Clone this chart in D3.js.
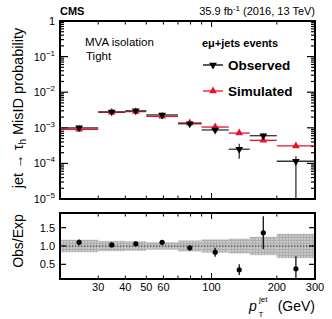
<!DOCTYPE html>
<html>
<head>
<meta charset="utf-8">
<script src="https://cdn.jsdelivr.net/npm/d3@7"></script>
<style>
  body { margin: 0; background: #fff; }
  text { font-family: "Liberation Sans", Arial, sans-serif; }
</style>
</head>
<body>
<div class="holder"></div>
<script>
"use strict";

// pT bins (GeV)
const binLo = [20, 30, 40, 50, 70, 90, 120, 150, 200];
const binHi = [30, 40, 50, 70, 90, 120, 150, 200, 300];
// misID probability
const observed = [1.0e-3, 2.8e-3, 3.0e-3, 2.3e-3, 1.3e-3, 0.87e-3, 2.5e-4, 6.0e-4, 1.15e-4];
const obsUp = [1.1e-3, 3.05e-3, 3.25e-3, 2.5e-3, 1.4e-3, 0.95e-3, 3.55e-4, 7.0e-4, 1.6e-4];
const obsDn = [0.9e-3, 2.55e-3, 2.75e-3, 2.1e-3, 1.2e-3, 0.79e-3, 1.35e-4, 5.1e-4, 1e-6];
const simulated = [0.91e-3, 2.72e-3, 2.85e-3, 2.1e-3, 1.37e-3, 1.05e-3, 7.1e-4, 4.45e-4, 3.1e-4];
// ratio panel
const ratio = [1.1, 1.03, 1.06, 1.1, 0.95, 0.83, 0.35, 1.36, 0.38];
const ratioUp = [1.18, 1.09, 1.12, 1.16, 1.03, 0.95, 0.5, 1.81, 0.72];
const ratioDn = [1.02, 0.97, 1.0, 1.04, 0.87, 0.71, 0.21, 0.92, 0.05];
const bandHalf = [0.17, 0.14, 0.13, 0.1, 0.15, 0.18, 0.2, 0.25, 0.33];
const xTickLabels = [30, 40, 50, 60, 100, 200, 300];
const ratioTicks = [0.5, 1.0, 1.5];

const w = 332;
const h = 319;
const L = 60, R = 315;

const svg = d3.select(".holder").append("svg")
  .attr("width", w).attr("height", h);

const defs = svg.append("defs");
const pat = defs.append("pattern").attr("id", "hatch")
  .attr("patternUnits", "userSpaceOnUse").attr("width", 3).attr("height", 3);
pat.append("rect").attr("width", 3).attr("height", 3).attr("fill", "#c6c6c6");
pat.append("path").attr("d", "M0,0.5H3M0.5,0V3").attr("stroke", "#ababab").attr("stroke-width", 0.8);

const x = d3.scaleLog().domain([20, 300]).range([L, R]);
const yTop = d3.scaleLog().domain([1e-5, 1]).range([199, 21]).clamp(true);
const yRat = d3.scaleLinear().domain([0.1, 1.9]).range([279, 213]).clamp(true);

const bins = binLo.map((lo, i) => ({
  lo: lo, hi: binHi[i], c: Math.sqrt(lo * binHi[i]),
  obs: observed[i], up: obsUp[i], dn: obsDn[i], sim: simulated[i],
  r: ratio[i], rUp: ratioUp[i], rDn: ratioDn[i], band: bandHalf[i]
}));

// ---------- upper panel ----------
const topG = svg.append("g");

// minor / major ticks on log y (both sides)
const yTicks = [];
for (let e = -5; e < 0; e++) {
  for (let k = 1; k < 10; k++) yTicks.push({ v: k * Math.pow(10, e), major: k === 1 });
}
yTicks.push({ v: 1, major: true });
topG.selectAll("line.yt").data(yTicks).enter().append("line")
  .attr("x1", L).attr("x2", (d) => L + (d.major ? 8 : 4))
  .attr("y1", (d) => yTop(d.v)).attr("y2", (d) => yTop(d.v))
  .attr("stroke", "#000").attr("stroke-width", 1.2);
topG.selectAll("line.ytr").data(yTicks).enter().append("line")
  .attr("x1", R).attr("x2", (d) => R - (d.major ? 8 : 4))
  .attr("y1", (d) => yTop(d.v)).attr("y2", (d) => yTop(d.v))
  .attr("stroke", "#000").attr("stroke-width", 1.2);

const xTicks = [30, 40, 50, 60, 70, 80, 90, 100, 200, 300];
[[199, -1], [21, 1], [213, 1], [279, -1]].forEach(([yy, dir]) => {
  svg.selectAll(null).data(xTicks).enter().append("line")
    .attr("x1", (d) => x(d)).attr("x2", (d) => x(d))
    .attr("y1", yy).attr("y2", (d) => yy + dir * (d === 100 ? 6 : 3.5))
    .attr("stroke", "#000").attr("stroke-width", 1);
});

// y tick labels
const yLab = topG.selectAll("text.yl").data([0, -1, -2, -3, -4, -5]).enter().append("text")
  .attr("x", 55).attr("y", (d) => yTop(Math.pow(10, d)) + 4)
  .attr("text-anchor", "end").attr("font-size", 11);
yLab.each(function (d) {
  const t = d3.select(this);
  if (d === 0) { t.text("1"); return; }
  t.append("tspan").text("10");
  t.append("tspan").attr("dy", -5).attr("font-size", 8).text("\u2212" + (-d));
});

// simulated
const simG = topG.append("g");
simG.selectAll("line").data(bins).enter().append("line")
  .attr("x1", (d) => x(d.lo)).attr("x2", (d) => x(d.hi))
  .attr("y1", (d) => yTop(d.sim)).attr("y2", (d) => yTop(d.sim))
  .attr("stroke", "#e8112d").attr("stroke-width", 1.3);
// observed
const obsG = topG.append("g");
obsG.selectAll("line.h").data(bins).enter().append("line")
  .attr("x1", (d) => x(d.lo)).attr("x2", (d) => x(d.hi))
  .attr("y1", (d) => yTop(d.obs)).attr("y2", (d) => yTop(d.obs))
  .attr("stroke", "#333").attr("stroke-width", 1.3);
obsG.selectAll("line.v").data(bins).enter().append("line")
  .attr("x1", (d) => x(d.c)).attr("x2", (d) => x(d.c))
  .attr("y1", (d) => yTop(d.up)).attr("y2", (d) => yTop(d.dn))
  .attr("stroke", "#333").attr("stroke-width", 1.3);

const tri = d3.symbol().type(d3.symbolTriangle).size(26);
obsG.selectAll("path").data(bins).enter().append("path")
  .attr("d", tri)
  .attr("transform", (d) => `translate(${x(d.c)},${yTop(d.obs)}) rotate(180)`)
  .attr("fill", "#000");
simG.selectAll("path").data(bins).enter().append("path")
  .attr("d", tri)
  .attr("transform", (d) => `translate(${x(d.c)},${yTop(d.sim)})`)
  .attr("fill", "#e8112d");

topG.append("rect").attr("x", L).attr("y", 21).attr("width", R - L).attr("height", 178)
  .attr("fill", "none").attr("stroke", "#000").attr("stroke-width", 2);

// ---------- ratio panel ----------
const botG = svg.append("g");
botG.selectAll("rect.band").data(bins).enter().append("rect")
  .attr("x", (d) => x(d.lo)).attr("width", (d) => x(d.hi) - x(d.lo))
  .attr("y", (d) => yRat(1 + d.band)).attr("height", (d) => yRat(1 - d.band) - yRat(1 + d.band))
  .attr("fill", "url(#hatch)");
botG.append("line").attr("x1", L).attr("x2", R).attr("y1", yRat(1)).attr("y2", yRat(1))
  .attr("stroke", "#444").attr("stroke-width", 1).attr("stroke-dasharray", "1.5,1.5");
botG.selectAll("line.err").data(bins).enter().append("line")
  .attr("x1", (d) => x(d.c)).attr("x2", (d) => x(d.c))
  .attr("y1", (d) => yRat(d.rUp)).attr("y2", (d) => yRat(d.rDn))
  .attr("stroke", "#000").attr("stroke-width", 1.2);
botG.selectAll("circle").data(bins).enter().append("circle")
  .attr("cx", (d) => x(d.c)).attr("cy", (d) => yRat(d.r)).attr("r", 2.6)
  .attr("fill", "#000");
botG.selectAll("line.rt").data(ratioTicks).enter().append("line")
  .attr("x1", L).attr("x2", L + 6).attr("y1", (d) => yRat(d)).attr("y2", (d) => yRat(d))
  .attr("stroke", "#000").attr("stroke-width", 1.2);
botG.selectAll("line.rtr").data(ratioTicks).enter().append("line")
  .attr("x1", R).attr("x2", R - 6).attr("y1", (d) => yRat(d)).attr("y2", (d) => yRat(d))
  .attr("stroke", "#000").attr("stroke-width", 1.2);
botG.selectAll("text.rl").data(ratioTicks).enter().append("text")
  .attr("x", 55).attr("y", (d) => yRat(d) + 4).attr("text-anchor", "end")
  .attr("font-size", 11).text((d) => d.toFixed(1));
botG.append("rect").attr("x", L).attr("y", 213).attr("width", R - L).attr("height", 66)
  .attr("fill", "none").attr("stroke", "#000").attr("stroke-width", 2);

botG.selectAll("text.xl").data(xTickLabels).enter().append("text")
  .attr("x", (d) => x(d)).attr("y", 291).attr("text-anchor", "middle")
  .attr("font-size", 11).text((d) => d);

// ---------- texts ----------
svg.append("text").attr("x", 60).attr("y", 15).attr("font-size", 11)
  .attr("font-weight", "bold").text("CMS");
const lumi = svg.append("text").attr("x", 315).attr("y", 15).attr("font-size", 11)
  .attr("text-anchor", "end");
lumi.append("tspan").text("35.9 fb");
lumi.append("tspan").attr("dy", -4).attr("font-size", 8).text("-1");
lumi.append("tspan").attr("dy", 4).text(" (2016, 13 TeV)");

svg.append("text").attr("x", 85).attr("y", 46).attr("font-size", 11.5).text("MVA isolation");
svg.append("text").attr("x", 86).attr("y", 60).attr("font-size", 11.5).text("Tight");
svg.append("text").attr("x", 202).attr("y", 47).attr("font-size", 11)
  .attr("font-weight", "bold").text("e\u03bc+jets events");

const legend = [
  { label: "Observed", color: "#000", rot: 180, y: 65 },
  { label: "Simulated", color: "#e8112d", rot: 0, y: 91 }
];
legend.forEach((d) => {
  svg.append("line").attr("x1", 203).attr("x2", 223).attr("y1", d.y).attr("y2", d.y)
    .attr("stroke", d.color).attr("stroke-width", 1.3);
  svg.append("path").attr("d", tri)
    .attr("transform", `translate(213,${d.y}) rotate(${d.rot})`).attr("fill", d.color);
  svg.append("text").attr("x", 228).attr("y", d.y + 5).attr("font-size", 13.5)
    .attr("font-weight", "bold").text(d.label);
});

const yl = svg.append("text").attr("transform", "translate(23,108) rotate(-90)")
  .attr("text-anchor", "middle").attr("font-size", 14.5);
yl.append("tspan").text("jet \u2192 \u03c4");
yl.append("tspan").attr("dy", 3).attr("font-size", 10).text("h");
yl.append("tspan").attr("dy", -3).text(" MisID probability");

svg.append("text").attr("transform", "translate(23,241) rotate(-90)")
  .attr("text-anchor", "middle").attr("font-size", 14).text("Obs/Exp");

// x axis title: p_T^jet (GeV)
svg.append("text").attr("x", 249).attr("y", 311).attr("font-size", 14)
  .attr("font-style", "italic").text("p");
svg.append("text").attr("x", 259).attr("y", 302).attr("font-size", 8).text("jet");
svg.append("text").attr("x", 258.5).attr("y", 317).attr("font-size", 8).text("T");
svg.append("text").attr("x", 315).attr("y", 311).attr("text-anchor", "end")
  .attr("font-size", 14).text("(GeV)");
</script>
</body>
</html>
